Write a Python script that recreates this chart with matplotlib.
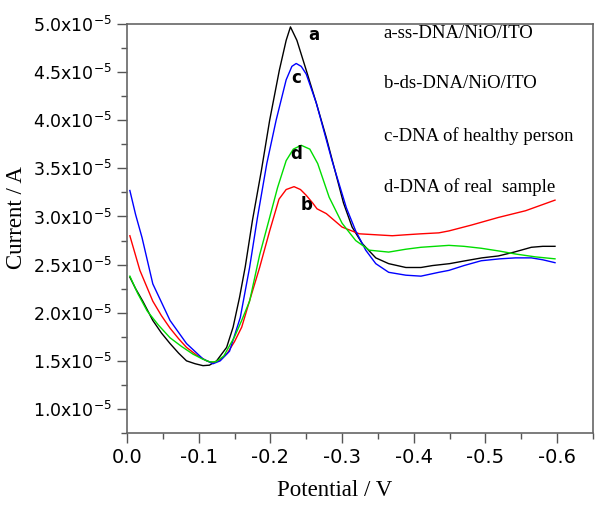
import numpy as np
import matplotlib
matplotlib.use('Agg')
import matplotlib.pyplot as plt
from matplotlib.ticker import MultipleLocator, FuncFormatter

plt.rcParams['mathtext.fontset'] = 'dejavusans'

# curve a: ss-DNA/NiO/ITO (potential in V, current in 1e-5 A)
a_x = [-0.004, -0.012, -0.022, -0.036, -0.048, -0.060, -0.072, -0.083, -0.095, -0.106,
       -0.115, -0.125, -0.139, -0.148, -0.157, -0.165, -0.175, -0.1875, -0.199, -0.2125,
       -0.222, -0.228, -0.237, -0.250, -0.264, -0.278, -0.290, -0.302, -0.314, -0.328,
       -0.347, -0.365, -0.389, -0.410, -0.426, -0.450, -0.472, -0.495, -0.518, -0.540,
       -0.564, -0.580, -0.597]
a_y = [2.37, 2.25, 2.12, 1.92, 1.79, 1.68, 1.58, 1.50, 1.47, 1.45,
       1.455, 1.50, 1.64, 1.85, 2.16, 2.48, 2.96, 3.48, 4.00, 4.52,
       4.83, 4.97, 4.83, 4.52, 4.18, 3.82, 3.48, 3.14, 2.89, 2.72,
       2.57, 2.51, 2.47, 2.47, 2.49, 2.51, 2.54, 2.57, 2.59, 2.63,
       2.68, 2.69, 2.69]

# curve b: ds-DNA/NiO/ITO
b_x = [-0.004, -0.018, -0.036, -0.048, -0.060, -0.072, -0.083, -0.097, -0.111, -0.120,
       -0.130, -0.140, -0.150, -0.160, -0.170, -0.185, -0.199, -0.212, -0.222, -0.233,
       -0.242, -0.250, -0.259, -0.265, -0.278, -0.300, -0.324, -0.347, -0.370, -0.389,
       -0.410, -0.435, -0.449, -0.480, -0.518, -0.556, -0.597]
b_y = [2.80, 2.44, 2.12, 1.97, 1.84, 1.73, 1.64, 1.56, 1.50, 1.48,
       1.51, 1.58, 1.70, 1.85, 2.10, 2.47, 2.85, 3.18, 3.28, 3.31,
       3.28, 3.22, 3.14, 3.08, 3.03, 2.89, 2.82, 2.81, 2.80, 2.81,
       2.82, 2.83, 2.85, 2.91, 2.99, 3.06, 3.17]

# curve c: DNA of healthy person
c_x = [-0.004, -0.012, -0.021, -0.036, -0.060, -0.083, -0.106, -0.120, -0.130, -0.143,
       -0.158, -0.171, -0.182, -0.195, -0.208, -0.222, -0.230, -0.236, -0.243, -0.250,
       -0.264, -0.286, -0.306, -0.319, -0.333, -0.347, -0.365, -0.389, -0.410, -0.435,
       -0.449, -0.470, -0.494, -0.520, -0.542, -0.564, -0.580, -0.597]
c_y = [3.27, 3.02, 2.78, 2.30, 1.92, 1.68, 1.52, 1.47, 1.50, 1.60,
       1.95, 2.47, 2.99, 3.55, 4.00, 4.42, 4.56, 4.59, 4.56, 4.48,
       4.18, 3.58, 3.09, 2.85, 2.65, 2.51, 2.42, 2.39, 2.38, 2.42,
       2.44, 2.49, 2.54, 2.56, 2.57, 2.57, 2.55, 2.52]

# curve d: DNA of real sample
d_x = [-0.004, -0.015, -0.028, -0.044, -0.060, -0.076, -0.092, -0.105, -0.115, -0.124,
       -0.135, -0.150, -0.160, -0.171, -0.185, -0.199, -0.210, -0.222, -0.232, -0.243,
       -0.255, -0.266, -0.282, -0.300, -0.319, -0.338, -0.365, -0.389, -0.410, -0.449,
       -0.470, -0.494, -0.520, -0.542, -0.570, -0.597]
d_y = [2.38, 2.20, 2.02, 1.87, 1.74, 1.65, 1.57, 1.52, 1.49, 1.49,
       1.55, 1.75, 1.92, 2.12, 2.60, 2.99, 3.30, 3.58, 3.70, 3.74,
       3.70, 3.55, 3.20, 2.93, 2.75, 2.65, 2.63, 2.66, 2.68, 2.70,
       2.69, 2.67, 2.64, 2.61, 2.58, 2.56]

legend_lines = ['a-ss-DNA/NiO/ITO', 'b-ds-DNA/NiO/ITO',
                'c-DNA of healthy person', 'd-DNA of real  sample']

fig = plt.figure(figsize=(6.01, 5.11), dpi=100)
ax = fig.add_axes([0.2113, 0.1526, 0.7754, 0.8004])

scale = 1e-5
ax.plot(a_x, np.array(a_y) * scale, c='black', lw=1.0)
ax.plot(b_x, np.array(b_y) * scale, c='red', lw=1.0)
ax.plot(c_x, np.array(c_y) * scale, c='blue', lw=1.0)
ax.plot(d_x, np.array(d_y) * scale, c='#00dd00', lw=1.0)

# curve letters
for s, x, y in [('a', -0.260, 4.89), ('c', -0.236, 4.44), ('d', -0.236, 3.65), ('b', -0.250, 3.12)]:
    ax.text(x, y * scale, s, ha='center', va='center', fontsize=12,
            fontweight='bold', family='DejaVu Sans')

for s, y in zip(legend_lines, [4.90, 4.385, 3.833, 3.31]):
    ax.text(-0.358, y * scale, s, ha='left', va='center', fontsize=13.5,
            family='Liberation Serif')

ax.set_xlim(0.0, -0.65)
ax.set_ylim(0.75e-5, 5.0e-5)
ax.xaxis.set_major_locator(MultipleLocator(0.1))
ax.xaxis.set_minor_locator(MultipleLocator(0.05))
ax.yaxis.set_major_locator(MultipleLocator(0.5e-5))
ax.yaxis.set_minor_locator(MultipleLocator(0.25e-5))
ax.xaxis.set_major_formatter(FuncFormatter(lambda v, p: '%.1f' % v if abs(v) > 1e-9 else '0.0'))
ax.yaxis.set_major_formatter(FuncFormatter(lambda v, p: '%.1fx10$^{-5}$' % (v / scale)))

ax.tick_params(which='both', direction='out', top=False, right=False, colors='#555555',
               labelcolor='black', labelsize=12.5, width=1.0)
ax.tick_params(axis='x', labelsize=14)
ax.tick_params(which='major', length=7)
ax.tick_params(which='minor', length=4)
for sp in ax.spines.values():
    sp.set_color('#666666')
    sp.set_linewidth(1.2)

ax.set_xlabel('Potential / V', family='Liberation Serif', fontsize=16.5)
ax.set_ylabel('Current / A', family='Liberation Serif', fontsize=16.5)
ax.xaxis.set_label_coords(0.446, -0.115)
ax.yaxis.set_label_coords(-0.215, 0.526)

fig.savefig('out.png', dpi=100)
